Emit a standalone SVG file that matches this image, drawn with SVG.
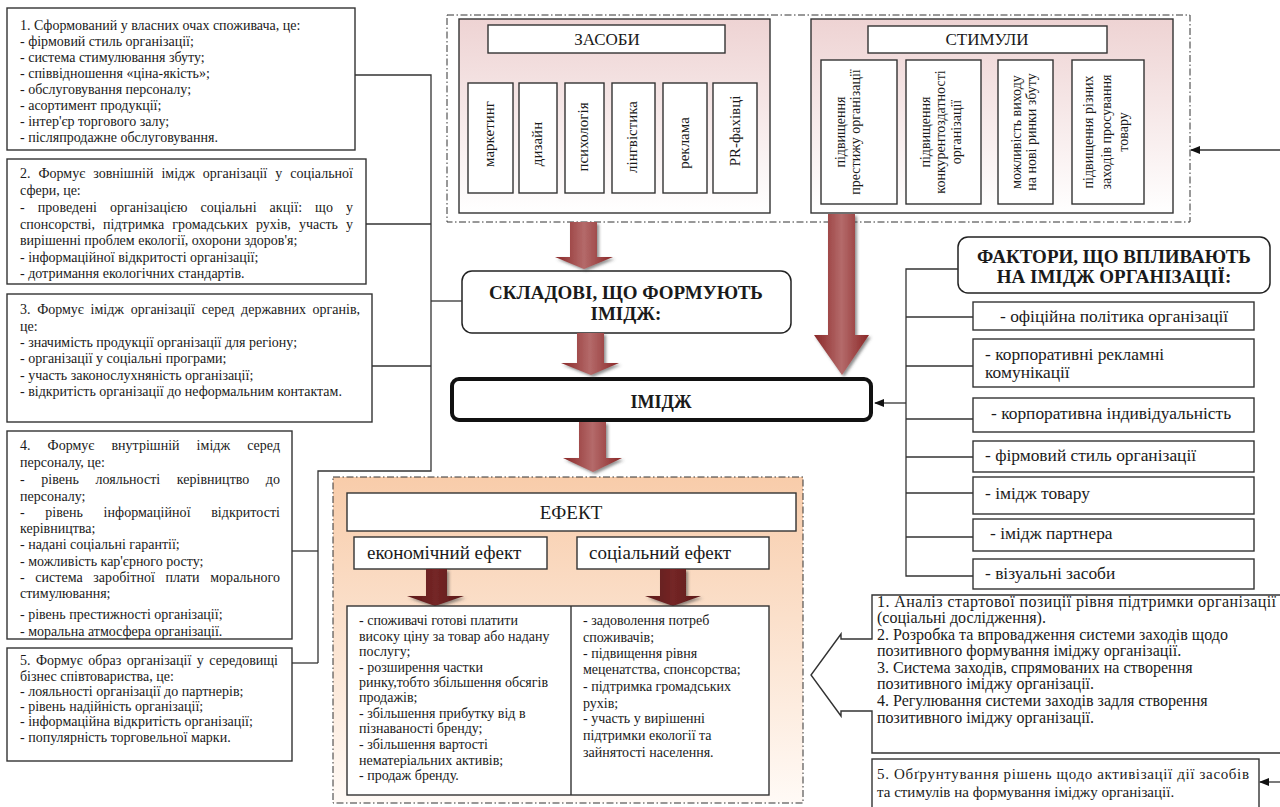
<svg xmlns="http://www.w3.org/2000/svg" width="1280" height="807" viewBox="0 0 1280 807">
<style>
.t{font-family:"Liberation Serif","Times New Roman",serif;fill:#1a1a1a}
.s14{font-size:14px}
.s15{font-size:15px}
.s16{font-size:16px}
.s17{font-size:17px}
.f{font-size:17.4px}
.s19{font-size:19px}
.b{font-weight:bold}
.m{text-anchor:middle}
.box{fill:#fff;stroke:#333;stroke-width:1.4}
.dd{stroke:#333;stroke-width:1;stroke-dasharray:7 2.5 1.5 2.5}
.ln{fill:none;stroke:#333;stroke-width:1.3}
</style>
<defs>
<linearGradient id="pink" x1="0" y1="0" x2="0" y2="1"><stop offset="0" stop-color="#eed3d3"/><stop offset="1" stop-color="#ffffff"/></linearGradient>
<linearGradient id="peach" x1="0" y1="0" x2="0" y2="1"><stop offset="0" stop-color="#f8ccaa"/><stop offset="1" stop-color="#fffaf6"/></linearGradient>
<linearGradient id="red" x1="0" y1="0" x2="1" y2="0"><stop offset="0" stop-color="#8a2727"/><stop offset="0.5" stop-color="#b46a6a"/><stop offset="1" stop-color="#8a2727"/></linearGradient>
<linearGradient id="dark" x1="0" y1="0" x2="1" y2="0"><stop offset="0" stop-color="#5c1818"/><stop offset="0.5" stop-color="#742626"/><stop offset="1" stop-color="#5c1818"/></linearGradient>
<filter id="sh" x="-20%" y="-20%" width="150%" height="150%"><feDropShadow dx="2" dy="2" stdDeviation="1.5" flood-color="#444" flood-opacity="0.6"/></filter>
<marker id="ah" markerWidth="10" markerHeight="8" refX="9" refY="4" orient="auto" markerUnits="userSpaceOnUse"><path d="M0,0 L10,4 L0,8 Z" fill="#111"/></marker>
</defs>
<rect width="1280" height="807" fill="#fff"/>

<g id="box1">
<rect class="box" x="7" y="8" width="348" height="142"/>
<text class="t s14" x="20" y="30">1. Сформований у власних очах споживача, це:</text>
<text class="t s14" x="20" y="46">- фірмовий стиль організації;</text>
<text class="t s14" x="20" y="62">- система стимулювання збуту;</text>
<text class="t s14" x="20" y="78">- співвідношення «ціна-якість»;</text>
<text class="t s14" x="20" y="94">- обслуговування персоналу;</text>
<text class="t s14" x="20" y="110">- асортимент продукції;</text>
<text class="t s14" x="20" y="126">- інтер'єр торгового залу;</text>
<text class="t s14" x="20" y="142">- післяпродажне обслуговування.</text>
</g>

<g id="box2">
<rect class="box" x="7" y="159" width="359" height="125"/>
<text class="t s14" x="20" y="178" word-spacing="4.5" textLength="333" lengthAdjust="spacing">2. Формує зовнішній імідж організації у соціальної</text>
<text class="t s14" x="20" y="195">сфери, це:</text>
<text class="t s14" x="20" y="212" word-spacing="9.5" textLength="333" lengthAdjust="spacing">- проведені організацією соціальні акції: що у</text>
<text class="t s14" x="20" y="229" word-spacing="4.5" textLength="333" lengthAdjust="spacing">спонсорстві, підтримка громадських рухів, участь у</text>
<text class="t s14" x="20" y="245">вирішенні проблем екології, охорони здоров'я;</text>
<text class="t s14" x="20" y="262">- інформаційної відкритості організації;</text>
<text class="t s14" x="20" y="278">- дотримання екологічних стандартів.</text>
</g>

<g id="box3">
<rect class="box" x="7" y="294" width="365" height="128"/>
<text class="t s14" x="20" y="314" word-spacing="3.2" textLength="340" lengthAdjust="spacing">3. Формує імідж організації серед державних органів,</text>
<text class="t s14" x="20" y="331">це:</text>
<text class="t s14" x="20" y="347">- значимість продукції організації для регіону;</text>
<text class="t s14" x="20" y="363">- організації у соціальні програми;</text>
<text class="t s14" x="20" y="380">- участь законослухняність організації;</text>
<text class="t s14" x="20" y="396">- відкритість організації до неформальним контактам.</text>
</g>

<g id="box4">
<rect class="box" x="7" y="431" width="285" height="208"/>
<text class="t s14" x="20" y="450" word-spacing="13.5" textLength="260" lengthAdjust="spacing">4. Формує внутрішній імідж серед</text>
<text class="t s14" x="20" y="467">персоналу, це:</text>
<text class="t s14" x="20" y="484" word-spacing="13" textLength="260" lengthAdjust="spacing">- рівень лояльності керівництво до</text>
<text class="t s14" x="20" y="501">персоналу;</text>
<text class="t s14" x="20" y="517" word-spacing="17" textLength="260" lengthAdjust="spacing">- рівень інформаційної відкритості</text>
<text class="t s14" x="20" y="533">керівництва;</text>
<text class="t s14" x="20" y="549">- надані соціальні гарантії;</text>
<text class="t s14" x="20" y="566">- можливість кар'єрного росту;</text>
<text class="t s14" x="20" y="582" word-spacing="7" textLength="260" lengthAdjust="spacing">- система заробітної плати морального</text>
<text class="t s14" x="20" y="598">стимулювання;</text>
<text class="t s14" x="20" y="619">- рівень престижності організації;</text>
<text class="t s14" x="20" y="636">- моральна атмосфера організації.</text>
</g>

<g id="box5">
<rect class="box" x="7" y="648" width="285" height="113"/>
<text class="t s14" x="20" y="665" word-spacing="2" textLength="258" lengthAdjust="spacing">5. Формує образ організації у середовищі</text>
<text class="t s14" x="20" y="681">бізнес співтовариства, це:</text>
<text class="t s14" x="20" y="696">- лояльності організації до партнерів;</text>
<text class="t s14" x="20" y="711">- рівень надійність організації;</text>
<text class="t s14" x="20" y="726">- інформаційна відкритість організації;</text>
<text class="t s14" x="20" y="742">- популярність торговельної марки.</text>
</g>

<g id="top-container">
<rect x="447" y="15" width="743" height="207" fill="none" class="dd"/>
</g>

<g id="zasoby">
<rect x="459" y="19" width="311" height="194" fill="url(#pink)" stroke="#333" stroke-width="1.4"/>
<rect class="box" x="488" y="25" width="237" height="28"/>
<text class="t s17 m" x="607" y="45">ЗАСОБИ</text>
<rect class="box" x="468" y="83" width="45" height="110"/>
<rect class="box" x="519" y="83" width="38" height="110"/>
<rect class="box" x="565" y="83" width="39" height="110"/>
<rect class="box" x="612" y="83" width="43" height="110"/>
<rect class="box" x="663" y="83" width="44" height="110"/>
<rect class="box" x="713" y="83" width="44" height="110"/>
<text class="t s15 m" transform="translate(494,134) rotate(-90)">маркетинг</text>
<text class="t s15 m" transform="translate(542,144) rotate(-90)">дизайн</text>
<text class="t s15 m" transform="translate(588,137) rotate(-90)">психологія</text>
<text class="t s15 m" transform="translate(637,137) rotate(-90)">лінгвістика</text>
<text class="t s15 m" transform="translate(689,143) rotate(-90)">реклама</text>
<text class="t s15 m" transform="translate(740,131) rotate(-90)">PR-фахівці</text>
</g>

<g id="stymuly">
<rect x="811" y="19" width="362" height="194" fill="url(#pink)" stroke="#333" stroke-width="1.4"/>
<rect class="box" x="868" y="26" width="239" height="27"/>
<text class="t s17 m" x="987" y="45">СТИМУЛИ</text>
<rect class="box" x="821" y="60" width="76" height="144"/>
<rect class="box" x="906" y="60" width="75" height="144"/>
<rect class="box" x="998" y="60" width="55" height="144"/>
<rect class="box" x="1072" y="60" width="72" height="144"/>
<text class="t s14 m" transform="translate(845,132) rotate(-90)">підвищення</text>
<text class="t s14 m" transform="translate(860,132) rotate(-90)">престижу організації</text>
<text class="t s14 m" transform="translate(930,132) rotate(-90)">підвищення</text>
<text class="t s14 m" transform="translate(945,132) rotate(-90)">конкурентоздатності</text>
<text class="t s14 m" transform="translate(961,132) rotate(-90)">організації</text>
<text class="t s14 m" transform="translate(1021,132) rotate(-90)">можливість виходу</text>
<text class="t s14 m" transform="translate(1036,132) rotate(-90)">на нові ринки збуту</text>
<text class="t s14 m" transform="translate(1093,132) rotate(-90)">підвищення різних</text>
<text class="t s14 m" transform="translate(1111,132) rotate(-90)">заходів просування</text>
<text class="t s14 m" transform="translate(1128,132) rotate(-90)">товару</text>
</g>

<g id="skladovi">
<rect x="462" y="271" width="329" height="62" rx="10" fill="#fff" stroke="#222" stroke-width="1.5"/>
<text class="t b m s19" x="626" y="299">СКЛАДОВІ, ЩО ФОРМУЮТЬ</text>
<text class="t b m s19" x="626" y="320">ІМІДЖ:</text>
</g>

<g id="imidzh">
<rect x="452" y="379" width="419" height="41" rx="7" fill="#fff" stroke="#111" stroke-width="4"/>
<text class="t b m" style="font-size:18px" x="661" y="408">ІМІДЖ</text>
</g>

<g id="faktory">
<rect x="958" y="237" width="312" height="56" rx="10" fill="#fff" stroke="#222" stroke-width="1.5"/>
<text class="t b m s19" x="1114" y="263">ФАКТОРИ, ЩО ВПЛИВАЮТЬ</text>
<text class="t b m s19" x="1114" y="283">НА ІМІДЖ ОРГАНІЗАЦІЇ:</text>
</g>

<g id="factor1"><rect class="box" x="973" y="302" width="281" height="28"/><text class="t f" x="1000" y="322">- офіційна політика організації</text></g>
<g id="factor2"><rect class="box" x="973" y="339" width="281" height="48"/><text class="t f" x="985" y="360">- корпоративні рекламні</text><text class="t f" x="985" y="378">комунікації</text></g>
<g id="factor3"><rect class="box" x="973" y="398" width="281" height="34"/><text class="t f" x="991" y="419">- корпоративна індивідуальність</text></g>
<g id="factor4"><rect class="box" x="973" y="441" width="281" height="31"/><text class="t f" x="985" y="461">- фірмовий стиль організації</text></g>
<g id="factor5"><rect class="box" x="973" y="477" width="281" height="37"/><text class="t f" x="985" y="499">- імідж товару</text></g>
<g id="factor6"><rect class="box" x="973" y="519" width="281" height="32"/><text class="t f" x="990" y="539">- імідж партнера</text></g>
<g id="factor7"><rect class="box" x="973" y="559" width="281" height="30"/><text class="t f" x="985" y="579">- візуальні засоби</text></g>

<g id="efekt">
<rect x="333" y="477" width="470" height="326" fill="url(#peach)" class="dd"/>
<rect class="box" x="347" y="493" width="449" height="38"/>
<text class="t m s19" x="571" y="519">ЕФЕКТ</text>
<rect class="box" x="354" y="537" width="193" height="32"/>
<text class="t s19" x="367" y="559">економічний ефект</text>
<rect class="box" x="577" y="537" width="192" height="32"/>
<text class="t s19" x="589" y="559">соціальний ефект</text>
<path d="M426,569 H447 V596 H464 L435,606 L407,596 H426 Z" fill="url(#dark)" filter="url(#sh)"/>
<path d="M660,569 H686 V596 H701 L673,606 L645,596 H660 Z" fill="url(#dark)" filter="url(#sh)"/>
<rect class="box" x="347" y="606" width="422" height="189"/>
<line x1="571" y1="606" x2="571" y2="795" stroke="#333" stroke-width="1.4"/>
<text class="t s14" x="359" y="625">- споживачі готові платити</text>
<text class="t s14" x="359" y="641">високу ціну за товар або надану</text>
<text class="t s14" x="359" y="656">послугу;</text>
<text class="t s14" x="359" y="672">- розширення частки</text>
<text class="t s14" x="359" y="687">ринку,тобто збільшення обсягів</text>
<text class="t s14" x="359" y="702">продажів;</text>
<text class="t s14" x="359" y="718">- збільшення прибутку від в</text>
<text class="t s14" x="359" y="733">пізнаваності бренду;</text>
<text class="t s14" x="359" y="749">- збільшення вартості</text>
<text class="t s14" x="359" y="765">нематеріальних активів;</text>
<text class="t s14" x="359" y="780">- продаж бренду.</text>
<text class="t s14" x="583" y="625">- задоволення потреб</text>
<text class="t s14" x="583" y="642">споживачів;</text>
<text class="t s14" x="583" y="658">- підвищення рівня</text>
<text class="t s14" x="583" y="674">меценатства, спонсорства;</text>
<text class="t s14" x="583" y="691">- підтримка громадських</text>
<text class="t s14" x="583" y="708">рухів;</text>
<text class="t s14" x="583" y="723">- участь у вирішенні</text>
<text class="t s14" x="583" y="740">підтримки екології та</text>
<text class="t s14" x="583" y="757">зайнятості населення.</text>
</g>

<g id="stages">
<path d="M872,595 H1283 V753 H872 V711 H841 V716 L811,675 L841,634 V639 H872 Z" fill="#fff" stroke="#333" stroke-width="1.4"/>
<text class="t s16" x="877" y="607" textLength="399" lengthAdjust="spacing">1. Аналіз стартової позиції рівня підтримки організації</text>
<text class="t s16" x="877" y="623">(соціальні дослідження).</text>
<text class="t s16" x="877" y="640" textLength="351" lengthAdjust="spacing">2. Розробка та впровадження системи заходів щодо</text>
<text class="t s16" x="877" y="656">позитивного формування іміджу організації.</text>
<text class="t s16" x="877" y="673">3. Система заходів, спрямованих на створення</text>
<text class="t s16" x="877" y="689">позитивного іміджу організації.</text>
<text class="t s16" x="877" y="706">4. Регулювання системи заходів задля створення</text>
<text class="t s16" x="877" y="723">позитивного іміджу організації.</text>
</g>

<g id="stage5">
<rect class="box" x="872" y="759" width="387" height="60"/>
<text class="t s15" x="877" y="779" textLength="372" lengthAdjust="spacing">5. Обґрунтування рішень щодо активізації дії засобів</text>
<text class="t s15" x="877" y="797">та стимулів на формування іміджу організації.</text>
</g>

<g id="big-arrows" filter="url(#sh)">
<path d="M570,222 H597 V257 H613 L584,269 L555,257 H570 Z" fill="url(#red)"/>
<path d="M828,214 H855 V335 H869 L842,375 L814,335 H828 Z" fill="url(#red)"/>
<path d="M577,333 H604 V363 H619 L591,375 L561,363 H577 Z" fill="url(#red)"/>
<path d="M579,422 H606 V458 H622 L593,472 L563,458 H579 Z" fill="url(#red)"/>
</g>

<g id="connectors">
<path class="ln" d="M355,75 H431 V471 H318 V663"/>
<path class="ln" d="M366,224 H431"/>
<path class="ln" d="M372,366 H431"/>
<path class="ln" d="M431,301 H462"/>
<path class="ln" d="M292,551 H318"/>
<path class="ln" d="M292,663 H318"/>
<path class="ln" d="M958,269 H906 V576 H973"/>
<path class="ln" d="M906,317 H973 M906,366 H973 M906,419 H973 M906,457 H973 M906,493 H973 M906,537 H973"/>
<line class="ln" x1="906" y1="403" x2="875" y2="403" marker-end="url(#ah)"/>
<line class="ln" x1="1280" y1="150" x2="1191" y2="150" marker-end="url(#ah)"/>
<line class="ln" x1="1280" y1="782" x2="1260" y2="782" marker-end="url(#ah)"/>
</g>
</svg>
